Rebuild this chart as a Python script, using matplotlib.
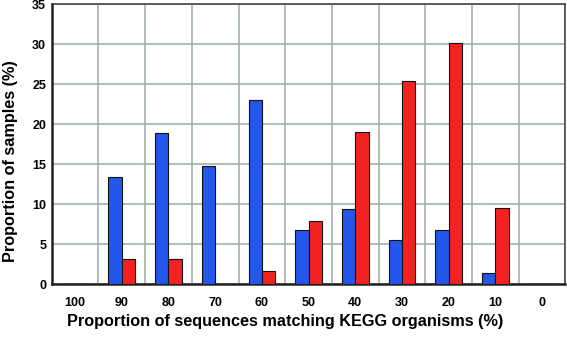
import numpy as np
import matplotlib
matplotlib.use("Agg")
import matplotlib.pyplot as plt

plt.rcParams['font.family'] = ['Liberation Sans', 'DejaVu Sans']

# data
categories = ['100', '90', '80', '70', '60', '50', '40', '30', '20', '10', '0']
blue_vals = [0, 13.4, 18.9, 14.8, 23.0, 6.8, 9.4, 5.5, 6.8, 1.4, 0]
red_vals  = [0, 3.1, 3.1, 0, 1.6, 7.9, 19.0, 25.4, 30.2, 9.5, 0]

fig = plt.figure(figsize=(5.67, 3.39), dpi=100)
ax = fig.add_axes([0.0912, 0.1614, 0.906, 0.826])

x = np.arange(len(categories))
w = 0.286

# grid at category boundaries
for b in np.arange(-0.5, len(categories) + 0.5, 1):
    ax.axvline(b, color='#9fb0b0', lw=1.2, zorder=0)
for yy in range(0, 36, 5):
    ax.axhline(yy, color='#9fb0b0', lw=1.2, zorder=0)

ax.bar(x - w/2, blue_vals, width=w, color='#2356ea', edgecolor='#111111', lw=0.8, zorder=3)
ax.bar(x + w/2, red_vals, width=w, color='#f22222', edgecolor='#111111', lw=0.8, zorder=3)

ax.set_xlim(-0.5, len(categories) - 0.5)
ax.set_ylim(0, 35)
ax.set_xticks(x)
ax.set_xticklabels(categories, fontsize=9, fontweight='bold')
ax.set_yticks(range(0, 36, 5))
ax.set_yticklabels([str(v) for v in range(0, 36, 5)], fontsize=9, fontweight='bold')
ax.tick_params(length=0)
ax.tick_params(axis='x', pad=9)
ax.tick_params(axis='y', pad=4)

for s in ax.spines.values():
    s.set_color('#444444')
    s.set_linewidth(1.2)
ax.spines['left'].set_color('#222222')
ax.spines['bottom'].set_color('#222222')
ax.spines['left'].set_linewidth(1.8)
ax.spines['bottom'].set_linewidth(1.8)

ax.set_xlabel('Proportion of sequences matching KEGG organisms (%)', fontsize=11.7,
              fontweight='bold')
ax.xaxis.set_label_coords(0.454, -0.105)
ax.set_ylabel('Proportion of samples (%)', fontsize=11.7, fontweight='bold')
ax.yaxis.set_label_coords(-0.066, 0.44)

fig.savefig('out.png', dpi=100)
